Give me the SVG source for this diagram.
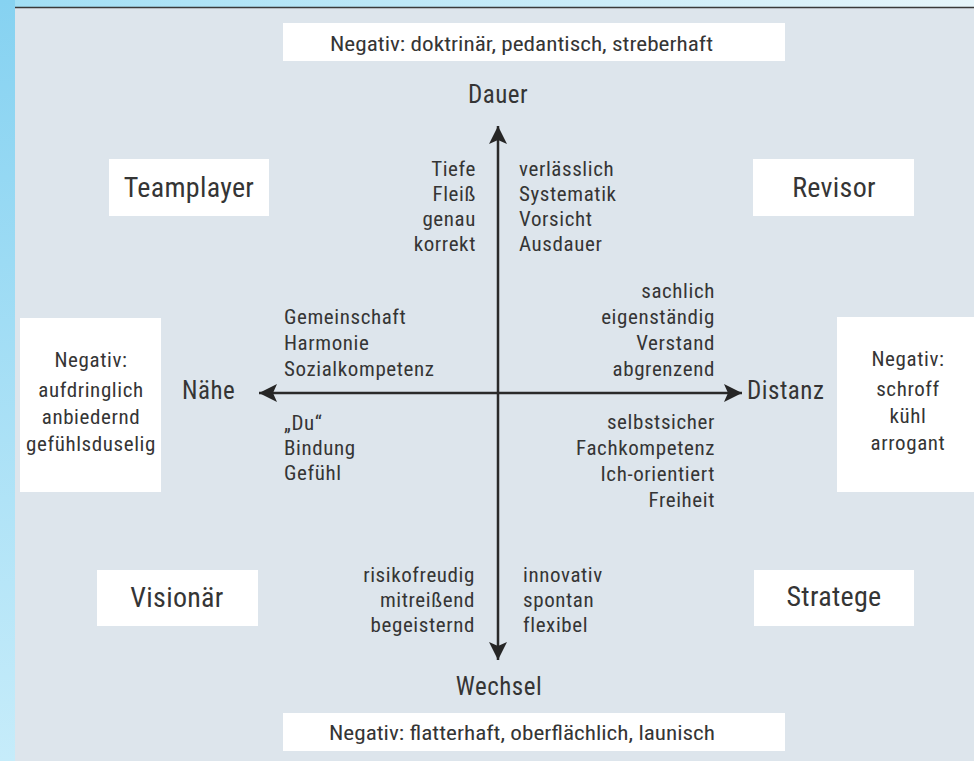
<svg xmlns="http://www.w3.org/2000/svg" width="974" height="761" viewBox="0 0 974 761">
  <defs>
    <linearGradient id="leftStrip" x1="0" y1="0" x2="0" y2="1">
      <stop offset="0" stop-color="#86d2f1"/>
      <stop offset="1" stop-color="#c6ecfa"/>
    </linearGradient>
    <linearGradient id="topStrip" x1="0" y1="0" x2="1" y2="0">
      <stop offset="0" stop-color="#a2dff5"/>
      <stop offset="1" stop-color="#e6f5fa"/>
    </linearGradient>
    <marker id="arrow" viewBox="0 0 18 18" refX="18" refY="9" markerWidth="18" markerHeight="18" markerUnits="userSpaceOnUse" orient="auto">
      <path d="M0,0 L18,9 L0,18 L4,9 Z" fill="#262626"/>
    </marker>
    <style>
      text { font-family: "Liberation Sans Narrow", "Roboto Condensed", "DejaVu Sans Condensed", "Liberation Sans", sans-serif; font-stretch: condensed; fill: #353535; }
      .box { fill: #ffffff; }
      .neg { font-size: 21px; }
      .type { font-size: 28px; letter-spacing: 0.3px; }
      .axis { font-size: 25px; letter-spacing: 0.5px; }
      .kw { font-size: 21px; letter-spacing: 0.6px; }
      .r { text-anchor: end; }
      .c { text-anchor: middle; }
      .conn { stroke: #2a2a2a; stroke-width: 2.5; fill: none; }
    </style>
  </defs>

  <!-- background -->
  <rect x="0" y="0" width="974" height="761" fill="#dde5ec"/>
  <rect x="0" y="0" width="15" height="761" fill="url(#leftStrip)"/>
  <rect x="15" y="0" width="959" height="7" fill="url(#topStrip)"/>
  <line x1="15" y1="7.5" x2="974" y2="7.5" stroke="#3a3a3a" stroke-width="1.5"/>

  <!-- connectors -->
  <g id="connectors">
    <line class="conn" x1="498" y1="390" x2="498" y2="126" marker-end="url(#arrow)"/>
    <line class="conn" x1="498" y1="390" x2="498" y2="660" marker-end="url(#arrow)"/>
    <line class="conn" x1="498" y1="393" x2="259" y2="393" marker-end="url(#arrow)"/>
    <line class="conn" x1="498" y1="393" x2="742" y2="393" marker-end="url(#arrow)"/>
  </g>

  <g id="neg-top">
    <rect class="box" x="283" y="23" width="502" height="38"/>
    <text class="neg" x="330" y="51" textLength="383" lengthAdjust="spacingAndGlyphs">Negativ: doktrinär, pedantisch, streberhaft</text>
  </g>
  <g id="neg-bottom">
    <rect class="box" x="283" y="713" width="502" height="38"/>
    <text class="neg" x="329" y="740" textLength="386" lengthAdjust="spacingAndGlyphs">Negativ: flatterhaft, oberflächlich, launisch</text>
  </g>
  <g id="neg-left">
    <rect class="box" x="20" y="318" width="141" height="174"/>
    <text class="kw c" x="91" y="367">Negativ:</text>
    <text class="kw c" x="91" y="397">aufdringlich</text>
    <text class="kw c" x="91" y="424">anbiedernd</text>
    <text class="kw c" x="91" y="451">gefühlsduselig</text>
  </g>
  <g id="neg-right">
    <rect class="box" x="837" y="317" width="137" height="175"/>
    <text class="kw c" x="908" y="366">Negativ:</text>
    <text class="kw c" x="908" y="396">schroff</text>
    <text class="kw c" x="908" y="423">kühl</text>
    <text class="kw c" x="908" y="450">arrogant</text>
  </g>

  <g id="teamplayer">
    <rect class="box" x="109" y="159" width="160" height="57"/>
    <text class="type c" x="189" y="197">Teamplayer</text>
  </g>
  <g id="revisor">
    <rect class="box" x="753" y="159" width="161" height="57"/>
    <text class="type c" x="834" y="197">Revisor</text>
  </g>
  <g id="visionaer">
    <rect class="box" x="97" y="570" width="161" height="56"/>
    <text class="type c" x="177" y="607">Visionär</text>
  </g>
  <g id="stratege">
    <rect class="box" x="754" y="570" width="160" height="56"/>
    <text class="type c" x="834" y="606">Stratege</text>
  </g>

  <g id="axis-labels">
    <text class="axis c" x="498" y="103">Dauer</text>
    <text class="axis c" x="499" y="695">Wechsel</text>
    <text class="axis" x="182" y="399">Nähe</text>
    <text class="axis" x="747" y="399">Distanz</text>
  </g>

  <g id="kw-top-left">
    <text class="kw r" x="476" y="176">Tiefe</text>
    <text class="kw r" x="476" y="201">Fleiß</text>
    <text class="kw r" x="476" y="226">genau</text>
    <text class="kw r" x="476" y="251">korrekt</text>
  </g>
  <g id="kw-top-right">
    <text class="kw" x="519" y="176">verlässlich</text>
    <text class="kw" x="519" y="201">Systematik</text>
    <text class="kw" x="519" y="226">Vorsicht</text>
    <text class="kw" x="519" y="251">Ausdauer</text>
  </g>
  <g id="kw-left-upper">
    <text class="kw" x="284" y="324">Gemeinschaft</text>
    <text class="kw" x="284" y="350">Harmonie</text>
    <text class="kw" x="284" y="376">Sozialkompetenz</text>
  </g>
  <g id="kw-left-lower">
    <text class="kw" x="284" y="430">„Du“</text>
    <text class="kw" x="284" y="455">Bindung</text>
    <text class="kw" x="284" y="480">Gefühl</text>
  </g>
  <g id="kw-right-upper">
    <text class="kw r" x="715" y="298">sachlich</text>
    <text class="kw r" x="715" y="324">eigenständig</text>
    <text class="kw r" x="715" y="350">Verstand</text>
    <text class="kw r" x="715" y="376">abgrenzend</text>
  </g>
  <g id="kw-right-lower">
    <text class="kw r" x="715" y="429">selbstsicher</text>
    <text class="kw r" x="715" y="455">Fachkompetenz</text>
    <text class="kw r" x="715" y="481">Ich-orientiert</text>
    <text class="kw r" x="715" y="507">Freiheit</text>
  </g>
  <g id="kw-bottom-left">
    <text class="kw r" x="475" y="582">risikofreudig</text>
    <text class="kw r" x="475" y="607">mitreißend</text>
    <text class="kw r" x="475" y="632">begeisternd</text>
  </g>
  <g id="kw-bottom-right">
    <text class="kw" x="523" y="582">innovativ</text>
    <text class="kw" x="523" y="607">spontan</text>
    <text class="kw" x="523" y="632">flexibel</text>
  </g>
</svg>
